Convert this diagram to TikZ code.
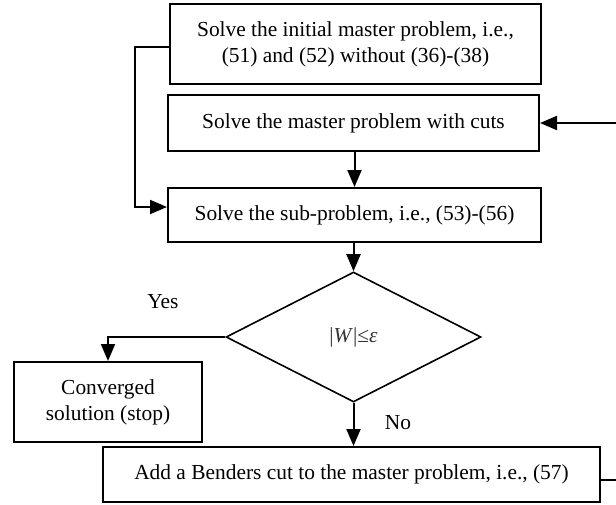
\documentclass[tikz,border=0pt]{standalone}
\usepackage{fontspec}
\setmainfont{Liberation Serif}
\usetikzlibrary{arrows.meta,shapes.geometric,positioning}

\begin{document}
\begin{tikzpicture}[x=0.5pt,y=-0.5pt,>={Triangle[length=8.5pt,width=7pt]},line width=1pt,
  every node/.style={font=\fontsize{10.7}{13}\selectfont},
  box/.style={draw,rectangle,inner sep=0pt,align=center},
  dec/.style={draw,diamond,inner sep=0pt,line width=0.8pt}]
\useasboundingbox (0,0) rectangle (616,504);
\node[box,minimum width=185.5pt,minimum height=40pt] (init) at (355.5,44) {Solve the initial master problem, i.e.,\\(51) and (52) without (36)-(38)};
\node[box,minimum width=185.5pt,minimum height=28pt] (master) at (353.5,123) {Solve the master problem with cuts};
\node[box,minimum width=186.5pt,minimum height=27pt] (sub) at (354.5,215) {Solve the sub-problem, i.e., (53)-(56)};
\node[dec,minimum width=127.5pt,minimum height=65pt] (test) at (353.5,337) {};
\node at (test.center) {\color{black!80}|\textit{W}|≤\textit{ε}};
\node[box,minimum width=94pt,minimum height=40pt] (stop) at (108,402) {Converged\\solution (stop)};
\node[box,minimum width=248.5pt,minimum height=27.5pt] (cut) at (351.5,474.5) {Add a Benders cut to the master problem, i.e., (57)};
\coordinate (back) at (622,300);
\coordinate (left) at (135,100);
\draw[->] ([yshift=-1.5pt]init.west) -| (left) |- ([yshift=4pt]sub.west);
\draw[->] (master.south -| sub.north) -- (sub.north);
\draw[->] (sub.south -| test.north) -- (test.north);
\draw[->] (test.west) -| (stop.north);
\draw[->] (test.south) -- (test.south |- cut.north);
\draw[->] ([yshift=-2.5pt]cut.east) -| (back) |- (master.east);
\node at (163,302) {Yes};
\node at (398,423) {No};
\end{tikzpicture}
\end{document}
